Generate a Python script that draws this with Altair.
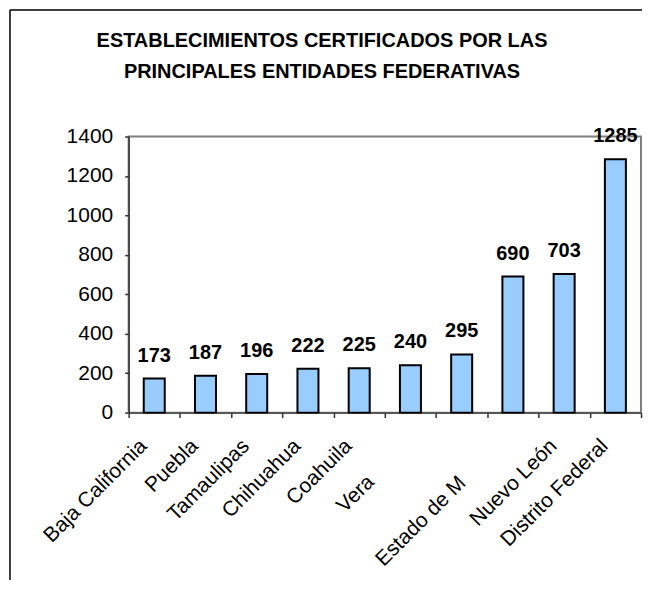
import altair as alt
import pandas as pd

categories = ["Baja California", "Puebla", "Tamaulipas", "Chihuahua", "Coahuila",
              "Vera", "", "Estado de M", "Nuevo León", "Distrito Federal"]
values = [173, 187, 196, 222, 225, 240, 295, 690, 703, 1285]
y_ticks = [0, 200, 400, 600, 800, 1000, 1200, 1400]
title_lines = ["ESTABLECIMIENTOS CERTIFICADOS POR LAS", "PRINCIPALES ENTIDADES FEDERATIVAS"]

df = pd.DataFrame({"entidad": categories, "valor": values})

W, H = 514, 277
FONT = "Liberation Sans"
AX = "#333333"

label_offset = {
    "condition": [
        {"test": "datum.value === 'Vera'", "value": -40},
        {"test": "datum.value === 'Estado de M'", "value": -51},
    ],
    "value": -11,
}
label_padding = {
    "condition": [
        {"test": "datum.value === 'Vera'", "value": 61},
        {"test": "datum.value === 'Estado de M'", "value": 62},
    ],
    "value": 25,
}

x_enc = alt.X(
    "entidad:N",
    sort=categories,
    scale=alt.Scale(paddingInner=0, paddingOuter=0),
    axis=alt.Axis(
        title=None, labelAngle=-45, labelAlign="right", labelBaseline="middle",
        labelFont=FONT, labelFontSize=21, labelColor="black",
        labelOffset=label_offset, labelPadding=label_padding,
        labelLimit=0, labelOverlap=False,
        tickBand="extent", tickSize=5, tickColor=AX, tickWidth=1.5,
        domainColor=AX, domainWidth=1.5,
    ),
)
y_enc = alt.Y(
    "valor:Q",
    scale=alt.Scale(domain=[0, 1400], nice=False),
    axis=alt.Axis(
        title=None, values=y_ticks, grid=False, format="d",
        labelFont=FONT, labelFontSize=21, labelColor="black", labelPadding=12,
        tickSize=4, tickColor=AX, tickWidth=1.5, domainColor=AX, domainWidth=1.5,
    ),
)

base = alt.Chart(df)
bars = base.mark_bar(
    width=alt.RelativeBandSize(0.41), color="#99CCFF", stroke="black", strokeWidth=2
).encode(x=x_enc, y=y_enc)

texts = base.mark_text(
    font=FONT, fontSize=20, fontWeight="bold", baseline="alphabetic", dy=-17, color="black"
).encode(x=x_enc, y=y_enc, text="valor:Q")

frame_df = pd.DataFrame({"k": [0]})
top_border = alt.Chart(frame_df).mark_rule(color="black", strokeWidth=1.5).encode(
    x=alt.value(-119), x2=alt.value(W + 1), y=alt.value(-127)
)
left_border = alt.Chart(frame_df).mark_rule(color="black", strokeWidth=1.5).encode(
    x=alt.value(-119), y=alt.value(-127), y2=alt.value(H + 168)
)
title1 = alt.Chart(frame_df).mark_text(
    font=FONT, fontSize=20, fontWeight="bold", color="black", align="center", baseline="alphabetic"
).encode(x=alt.value(194), y=alt.value(-90), text=alt.value(title_lines[0]))
title2 = alt.Chart(frame_df).mark_text(
    font=FONT, fontSize=20, fontWeight="bold", color="black", align="center", baseline="alphabetic"
).encode(x=alt.value(194), y=alt.value(-59), text=alt.value(title_lines[1]))

chart = alt.layer(top_border, left_border, title1, title2, bars, texts).properties(
    width=W, height=H,
    autosize=alt.AutoSizeParams(type="none"),
    padding={"left": 121, "top": 128, "right": 2, "bottom": 168},
).configure_view(stroke="#808080", strokeWidth=2)

chart.save("out.html", embed_options={"renderer": "svg", "actions": False})
